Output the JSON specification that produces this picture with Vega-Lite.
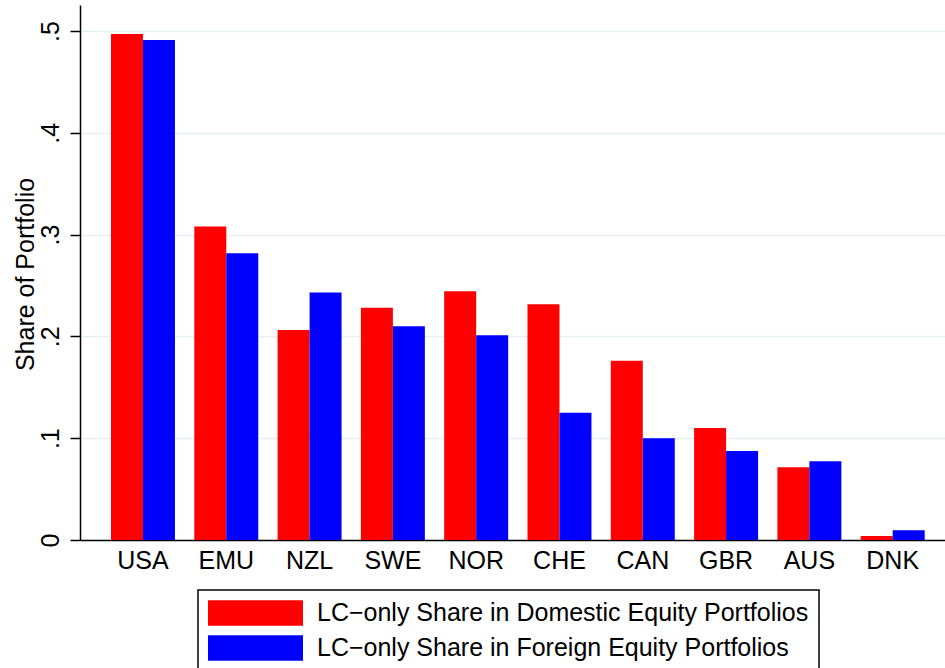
{
  "$schema": "https://vega.github.io/schema/vega-lite/v6.json",
  "autosize": {"type": "none"},
  "width": 865,
  "height": 535,
  "padding": {"left": 80, "top": 5, "right": 0, "bottom": 128},
  "background": "white",
  "config": {
    "view": {"stroke": null},
    "font": "Liberation Sans"
  },
  "data": {
    "values": [
      {"country": "USA", "series": "LC−only Share in Domestic Equity Portfolios", "value": 0.497},
      {"country": "USA", "series": "LC−only Share in Foreign Equity Portfolios", "value": 0.491},
      {"country": "EMU", "series": "LC−only Share in Domestic Equity Portfolios", "value": 0.308},
      {"country": "EMU", "series": "LC−only Share in Foreign Equity Portfolios", "value": 0.2816},
      {"country": "NZL", "series": "LC−only Share in Domestic Equity Portfolios", "value": 0.2063},
      {"country": "NZL", "series": "LC−only Share in Foreign Equity Portfolios", "value": 0.243},
      {"country": "SWE", "series": "LC−only Share in Domestic Equity Portfolios", "value": 0.2282},
      {"country": "SWE", "series": "LC−only Share in Foreign Equity Portfolios", "value": 0.2099},
      {"country": "NOR", "series": "LC−only Share in Domestic Equity Portfolios", "value": 0.2443},
      {"country": "NOR", "series": "LC−only Share in Foreign Equity Portfolios", "value": 0.201},
      {"country": "CHE", "series": "LC−only Share in Domestic Equity Portfolios", "value": 0.2315},
      {"country": "CHE", "series": "LC−only Share in Foreign Equity Portfolios", "value": 0.125},
      {"country": "CAN", "series": "LC−only Share in Domestic Equity Portfolios", "value": 0.176},
      {"country": "CAN", "series": "LC−only Share in Foreign Equity Portfolios", "value": 0.1},
      {"country": "GBR", "series": "LC−only Share in Domestic Equity Portfolios", "value": 0.11},
      {"country": "GBR", "series": "LC−only Share in Foreign Equity Portfolios", "value": 0.0874},
      {"country": "AUS", "series": "LC−only Share in Domestic Equity Portfolios", "value": 0.0714},
      {"country": "AUS", "series": "LC−only Share in Foreign Equity Portfolios", "value": 0.0773},
      {"country": "DNK", "series": "LC−only Share in Domestic Equity Portfolios", "value": 0.004},
      {"country": "DNK", "series": "LC−only Share in Foreign Equity Portfolios", "value": 0.0095}
    ]
  },
  "mark": {"type": "bar"},
  "encoding": {
    "x": {
      "field": "country",
      "type": "nominal",
      "sort": null,
      "scale": {"paddingInner": 0.232, "paddingOuter": 0.308, "align": 0.604},
      "axis": {
        "title": null,
        "labelAngle": 0,
        "ticks": false,
        "tickSize": 0,
        "labelFontSize": 25,
        "labelColor": "black",
        "labelBaseline": "alphabetic",
        "labelPadding": 28,
        "domainColor": "black",
        "domainWidth": 1.5,
        "grid": false
      }
    },
    "xOffset": {
      "field": "series",
      "type": "nominal",
      "scale": {"paddingInner": 0, "paddingOuter": 0}
    },
    "y": {
      "field": "value",
      "type": "quantitative",
      "scale": {"domain": [0, 0.5255], "nice": false, "zero": true},
      "axis": {
        "title": "Share of Portfolio",
        "titleFontSize": 25,
        "titleFontWeight": "normal",
        "titleColor": "black",
        "titleAngle": -90,
        "titleAlign": "center",
        "titleBaseline": "alphabetic",
        "titleX": -47,
        "titleY": 269,
        "values": [0, 0.1, 0.2, 0.3, 0.4, 0.5],
        "labelExpr": "datum.value == 0 ? '0' : replace(format(datum.value, '.1f'), '0.', '.')",
        "labelFontSize": 25,
        "labelColor": "black",
        "labelAngle": -90,
        "labelAlign": "center",
        "labelBaseline": "alphabetic",
        "labelPadding": 12,
        "tickSize": 10,
        "tickColor": "black",
        "tickWidth": 1.5,
        "domainColor": "black",
        "domainWidth": 1.5,
        "grid": true,
        "gridColor": "#e8eff1",
        "gridWidth": 1.5
      }
    },
    "color": {
      "field": "series",
      "type": "nominal",
      "scale": {
        "domain": ["LC−only Share in Domestic Equity Portfolios", "LC−only Share in Foreign Equity Portfolios"],
        "range": ["#ff0000", "#0000ff"]
      },
      "legend": {
        "title": null,
        "orient": "none",
        "legendX": 118,
        "legendY": 585,
        "direction": "vertical",
        "symbolType": "M-1,-0.27H1V0.27H-1Z",
        "symbolSize": 9025,
        "symbolStrokeWidth": 0,
        "symbolOpacity": 1,
        "clipHeight": 26,
        "rowPadding": 9,
        "labelOffset": 14,
        "labelFontSize": 25,
        "labelColor": "black",
        "labelLimit": 700,
        "padding": 10,
        "strokeColor": "black",
        "fillColor": "white",
        "encode": {"legend": {"update": {"strokeWidth": {"value": 1.5}}}}
      }
    }
  }
}
